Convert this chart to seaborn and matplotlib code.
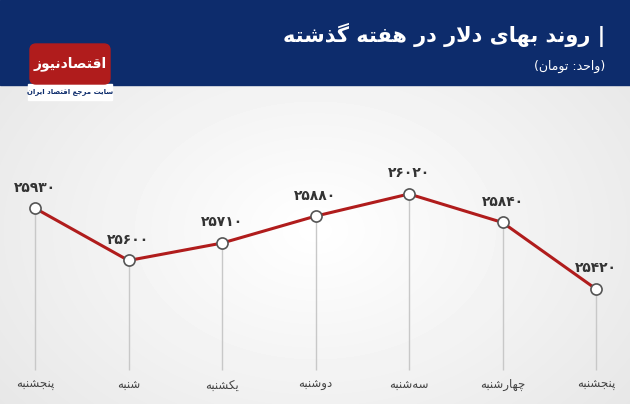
import numpy as np
import pandas as pd
import matplotlib
matplotlib.use("Agg")
import matplotlib.pyplot as plt
import seaborn as sns
from matplotlib.patches import Rectangle, FancyBboxPatch

days = ["پنجشنبه", "شنبه", "یکشنبه", "دوشنبه", "سه\u200cشنبه", "چهارشنبه", "پنجشنبه"]
values = [25930, 25600, 25710, 25880, 26020, 25840, 25420]
title = "| روند بهای دلار در هفته گذشته"
subtitle = "(واحد: تومان)"

# minimal Arabic/Persian shaper: (isolated, final, initial, medial)
FORMS = {
 'ا': (0xFE8D, 0xFE8E, None, None), 'ب': (0xFE8F, 0xFE90, 0xFE91, 0xFE92),
 'پ': (0xFB56, 0xFB57, 0xFB58, 0xFB59), 'ت': (0xFE95, 0xFE96, 0xFE97, 0xFE98),
 'ج': (0xFE9D, 0xFE9E, 0xFE9F, 0xFEA0), 'چ': (0xFB7A, 0xFB7B, 0xFB7C, 0xFB7D),
 'ح': (0xFEA1, 0xFEA2, 0xFEA3, 0xFEA4), 'د': (0xFEA9, 0xFEAA, None, None),
 'ذ': (0xFEAB, 0xFEAC, None, None), 'ر': (0xFEAD, 0xFEAE, None, None),
 'ز': (0xFEAF, 0xFEB0, None, None), 'س': (0xFEB1, 0xFEB2, 0xFEB3, 0xFEB4),
 'ش': (0xFEB5, 0xFEB6, 0xFEB7, 0xFEB8), 'ص': (0xFEB9, 0xFEBA, 0xFEBB, 0xFEBC),
 'ط': (0xFEC1, 0xFEC2, 0xFEC3, 0xFEC4), 'ع': (0xFEC9, 0xFECA, 0xFECB, 0xFECC),
 'ف': (0xFED1, 0xFED2, 0xFED3, 0xFED4), 'ق': (0xFED5, 0xFED6, 0xFED7, 0xFED8),
 'ک': (0xFB8E, 0xFB8F, 0xFB90, 0xFB91), 'گ': (0xFB92, 0xFB93, 0xFB94, 0xFB95),
 'ل': (0xFEDD, 0xFEDE, 0xFEDF, 0xFEE0), 'م': (0xFEE1, 0xFEE2, 0xFEE3, 0xFEE4),
 'ن': (0xFEE5, 0xFEE6, 0xFEE7, 0xFEE8), 'ه': (0xFEE9, 0xFEEA, 0xFEEB, 0xFEEC),
 'و': (0xFEED, 0xFEEE, None, None), 'ی': (0xFBFC, 0xFBFD, 0xFBFE, 0xFBFF),
}

def dual(c):
    return c in FORMS and FORMS[c][2] is not None

def shape(s):
    out = []
    chars = list(s)
    i = 0
    n = len(chars)
    while i < n:
        c = chars[i]
        if c == '\u200c':
            i += 1
            continue
        if c not in FORMS:
            out.append(c); i += 1; continue
        prev = chars[i-1] if i > 0 else ''
        joins_prev = dual(prev)
        if c == 'ل' and i + 1 < n and chars[i+1] == 'ا':
            out.append(chr(0xFEFC if joins_prev else 0xFEFB)); i += 2; continue
        nxt = chars[i+1] if i + 1 < n else ''
        joins_next = dual(c) and nxt in FORMS
        f = FORMS[c]
        if joins_prev and joins_next: g = f[3]
        elif joins_prev: g = f[1]
        elif joins_next: g = f[2]
        else: g = f[0]
        out.append(chr(g)); i += 1
    vis = ''.join(reversed(out))
    return vis.translate(str.maketrans('()', ')('))

def fa_digits(v):
    return str(v).translate(str.maketrans('0123456789', '۰۱۲۳۴۵۶۷۸۹'))

sns.set_theme(style="white")
plt.rcParams['font.family'] = ['DejaVu Sans']

fig = plt.figure(figsize=(6.3, 4.04), dpi=100)
bg = fig.add_axes([0, 0, 1, 1])
yy, xx = np.mgrid[0:404, 0:630]
r = np.sqrt(((xx - 315) / 420.0) ** 2 + ((yy - 230) / 300.0) ** 2)
img = np.clip(1.0 - 0.10 * r, 0.85, 1.0)
bg.imshow(img, cmap='gray', vmin=0, vmax=1, extent=[0, 630, 404, 0], aspect='auto')
bg.set_xlim(0, 630); bg.set_ylim(404, 0); bg.axis('off')
bg.add_patch(Rectangle((0, 0), 630, 85, color='#0d2c6c'))
bg.add_patch(Rectangle((28, 84), 84, 16, color='white'))
bg.add_patch(FancyBboxPatch((30, 44), 80, 40, boxstyle="round,pad=0,rounding_size=6", color='#b01c1c'))
bg.text(70, 64, shape("اقتصادنیوز"), color='white', fontsize=10, fontweight='bold', ha='center', va='center')
bg.text(70, 92, shape("سایت مرجع اقتصاد ایران"), color='#0d2c6c', fontsize=5, fontweight='bold', ha='center', va='center')
bg.text(605, 35, shape(title), color='white', fontsize=15, fontweight='bold', ha='right', va='center')
bg.text(605, 66, shape(subtitle), color='white', fontsize=9, ha='right', va='center')

ax = fig.add_axes([0, 0, 1, 319 / 404])
ax.patch.set_alpha(0)
x = np.arange(len(values))
df = pd.DataFrame({'x': x, 'v': values})
ax.vlines(x, 24908, values, color='#c8c8c8', lw=1, zorder=1)
sns.lineplot(data=df, x='x', y='v', ax=ax, color='#b01c1c', lw=2.2, marker='o',
             markersize=8, markerfacecolor='white', markeredgecolor='#555555',
             markeredgewidth=1.2, zorder=3)
for xi, v in zip(x, values):
    ax.text(xi, v + 130, fa_digits(v), ha='center', va='center', fontsize=10,
            fontweight='bold', color='#333333')
for xi, d in zip(x, days):
    ax.text(xi, 24814, shape(d), ha='center', va='center', fontsize=8.5, color='#444444')
ax.set_xlim(-35 / 93.5, 595 / 93.5)
ax.set_ylim(24694, 26708)
ax.axis('off')
fig.savefig('out.png', dpi=100)
